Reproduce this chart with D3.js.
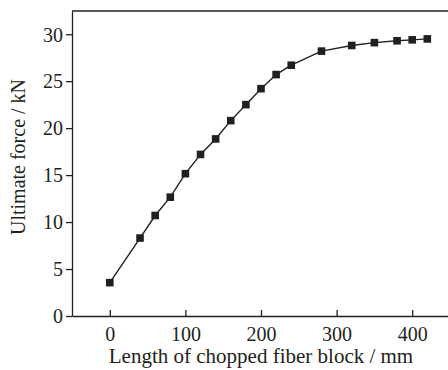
<!DOCTYPE html>
<html>
<head>
<meta charset="UTF-8" />
<title>Ultimate force</title>
<script src="https://d3js.org/d3.v7.min.js"></script>
<style type="text/css">
body {
    margin: 0;
    background-color: #fff;
}
text {
    font-family: "Liberation Serif", "Times New Roman", "DejaVu Serif", serif;
    fill: #231f20;
}
</style>
</head>
<body>
<svg width="448" height="370" id="svg1"></svg>
<script type="text/javascript">
var lengths = [0, 40, 60, 80, 100, 120, 140, 160, 180, 200, 220, 240, 280, 320, 350, 380, 400, 420];
var forces = [3.55, 8.3, 10.7, 12.65, 15.15, 17.2, 18.85, 20.8, 22.5, 24.2, 25.7, 26.7, 28.2, 28.8, 29.1, 29.3, 29.4, 29.5];
var xTicks = [0, 100, 200, 300, 400];
var yTicks = [0, 5, 10, 15, 20, 25, 30];

var svg = d3.select("#svg1"),
    ink = "#231f20";

var padLeft = 72, padTop = 11, padBottom = 316, padRight = 450;

var x = d3.scaleLinear().domain([-50, 450]).range([padLeft, padRight]);
var y = d3.scaleLinear().domain([0, 32.47]).range([padBottom, padTop]);

// frame
svg.append("line")
    .attr("x1", padLeft).attr("x2", padRight)
    .attr("y1", padTop).attr("y2", padTop)
    .attr("stroke", ink).attr("stroke-width", 1.3);

var xAxis = svg.append("g")
    .attr("transform", "translate(0," + padBottom + ")")
    .call(d3.axisBottom(x).tickValues(xTicks).tickSizeInner(-6).tickSizeOuter(0).tickPadding(11));

var yAxis = svg.append("g")
    .attr("transform", "translate(" + padLeft + ",0)")
    .call(d3.axisLeft(y).tickValues(yTicks).tickSizeInner(6).tickSizeOuter(0).tickPadding(3));

svg.selectAll(".domain, .tick line").attr("stroke", ink).attr("stroke-width", 1.3);
svg.selectAll(".tick text").attr("fill", ink).style("font-size", "20px")
    .style("font-family", "'Liberation Serif', 'Times New Roman', serif");
yAxis.selectAll(".tick text").attr("dy", "0.34em");

// data line
var line = d3.line()
    .x(function(d, i) { return x(lengths[i]); })
    .y(function(d) { return y(d); });

svg.append("path")
    .datum(forces)
    .attr("d", line)
    .attr("fill", "none")
    .attr("stroke", ink)
    .attr("stroke-width", 1.4);

svg.append("g").selectAll("rect").data(forces)
    .enter().append("rect")
    .attr("x", function(d, i) { return x(lengths[i]) - 3.8; })
    .attr("y", function(d) { return y(d) - 3.8; })
    .attr("width", 7.6)
    .attr("height", 7.6)
    .attr("fill", ink);

// titles
svg.append("text")
    .attr("x", 261).attr("y", 363)
    .attr("text-anchor", "middle")
    .style("font-size", "21px")
    .text("Length of chopped fiber block / mm");

svg.append("text")
    .attr("transform", "translate(25,157) rotate(-90)")
    .attr("text-anchor", "middle")
    .style("font-size", "20px")
    .text("Ultimate force / kN");
</script>
</body>
</html>
